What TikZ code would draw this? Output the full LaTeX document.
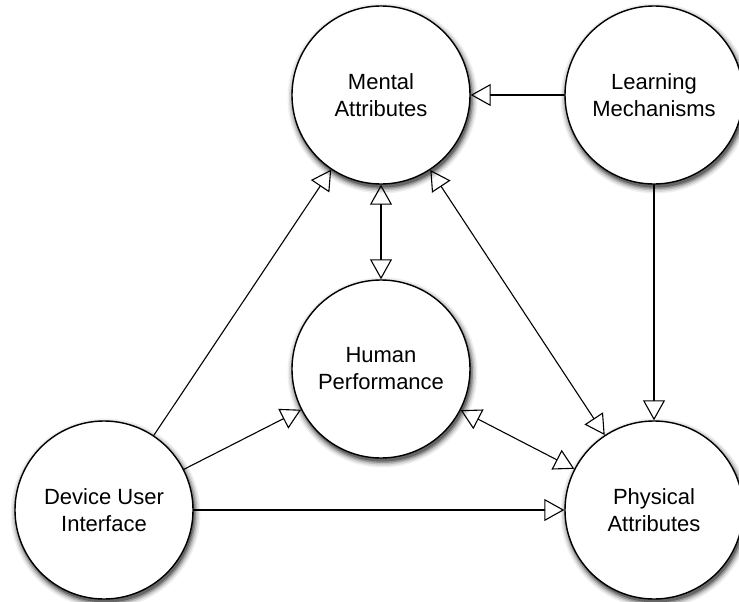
\documentclass[tikz,border=0pt]{standalone}
\usepackage{fontspec}
\setmainfont{Liberation Sans}
\usetikzlibrary{arrows.meta}
\begin{document}
\begin{tikzpicture}[x=1pt, y=-1pt, line join=round, line cap=round,
		>={Triangle[open,length=20pt,width=22pt]},
		factor/.style={circle, draw, line width=1.4pt, fill=white, minimum size=178pt, inner sep=0pt,
			align=center, font=\fontsize{22}{27}\selectfont},
		link/.style={line width=1.1pt}]
	\useasboundingbox (0,0) rectangle (739,602);
	% soft shadows below right, drawn first
	\foreach \x/\y in {381/95,654/95,381/369,104/510,654/510}
		\foreach \r/\c in {95/6,93.5/14,92/26,90.5/42,89/60}
			\fill[black!\c] (\x+1.5,\y+3.5) circle[radius=\r pt];
	% the five factors
	\node[factor] (mental) at (381,95) {Mental\\Attributes};
	\node[factor] (learning) at (654,95) {Learning\\Mechanisms};
	\node[factor] (human) at (381,369) {Human\\Performance};
	\node[factor] (device) at (104,510) {Device User\\Interface};
	\node[factor] (physical) at (654,510) {Physical\\Attributes};
	% influences
	\draw[link,->] (learning) -- (mental);
	\draw[link,->] (learning) -- (physical);
	\draw[link,<->] (mental) -- (human);
	\draw[link,<->] (mental) -- (physical);
	\draw[link,<->] (human) -- (physical);
	\draw[link,->] (device) -- (mental);
	\draw[link,->] (device) -- (human);
	\draw[link,->] (device) -- (physical);
\end{tikzpicture}
\end{document}
